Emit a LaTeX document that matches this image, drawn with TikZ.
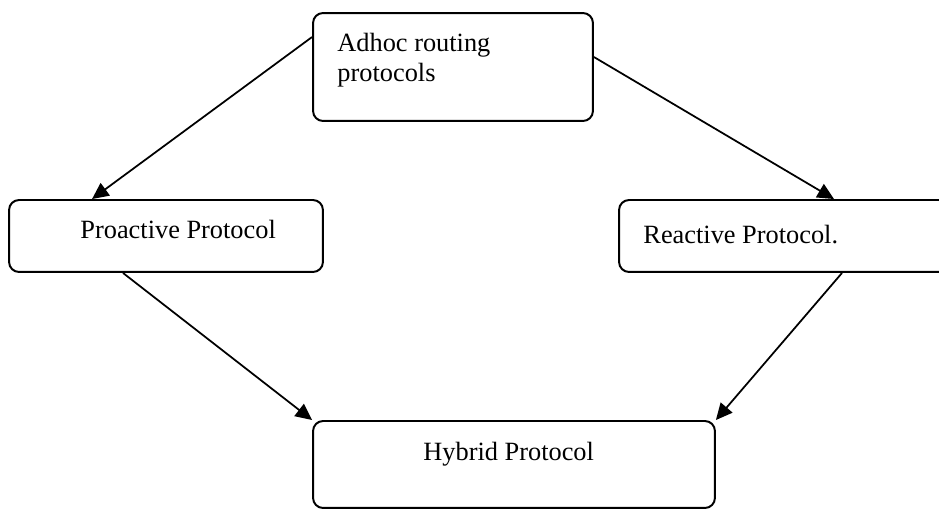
\documentclass[tikz,border=0pt]{standalone}
\usepackage{fontspec}
\setmainfont{Liberation Serif}
\usetikzlibrary{arrows.meta}
\tikzset{
  pbox/.style={draw, line width=0.9pt, rounded corners=0.16cm, inner sep=0pt},
  plabel/.style={inner sep=0pt, anchor=base west},
  parrow/.style={line width=0.8pt, -{Triangle[length=7.5pt,width=7pt]}}
}
\begin{document}
\begin{tikzpicture}[x=0.016cm, y=-0.016cm, font=\fontsize{12}{13.8}\selectfont]
  \useasboundingbox (0,0) rectangle (939,510);
  \clip (0,0) rectangle (939,510);

  % Drawing the protocol boxes
  \node [pbox, minimum width=4.48cm, minimum height=1.728cm] (adhoc) at (453,67) {};%
  \node [pbox, minimum width=5.024cm, minimum height=1.152cm] (proactive) at (166,236) {};%
  \node [pbox, minimum width=5.28cm, minimum height=1.152cm] (reactive) at (784,236) {};%
  \node [pbox, minimum width=6.432cm, minimum height=1.392cm] (hybrid) at (514,464.5) {};%

  % Writing the box texts (base of a two-line node is its last line)
  \node [plabel, align=left] (adhoctext) at (337,82) {Adhoc routing\\protocols};%
  \node [plabel] (proactivetext) at (80,239) {Proactive Protocol};%
  \node [plabel] (reactivetext) at (643,244) {Reactive Protocol.};%
  \node [plabel] (hybridtext) at (423,461) {Hybrid Protocol};%

  % Drawing the arrows
  \draw [parrow] ([yshift=-0.4cm]adhoc.north west) -- ([xshift=1.344cm]proactive.north west);%
  \draw [parrow] ([yshift=-0.72cm]adhoc.north east) -- ([xshift=3.456cm]reactive.north west);%
  \draw [parrow] ([xshift=1.84cm]proactive.south west) -- (hybrid.north west);%
  \draw [parrow] ([xshift=3.584cm]reactive.south west) -- (hybrid.north east);%
\end{tikzpicture}
\end{document}
